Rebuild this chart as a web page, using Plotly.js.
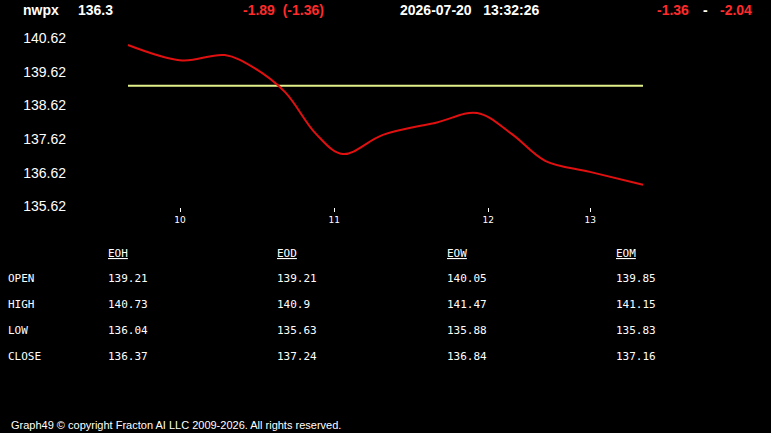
<!DOCTYPE html>
<html>
<head>
<meta charset="utf-8">
<script src="https://cdn.plot.ly/plotly-3.0.1.min.js"></script>
<style>
html,body{margin:0;padding:0;background:#000;}
#chart{width:771px;height:433px;}
</style>
</head>
<body>
<div id="chart"></div>
<script>
// ---- data ----
const symbol = "nwpx";
const lastPrice = "136.3";
const change = "-1.89";
const changePct = "(-1.36)";
const dateStr = "2026-07-20";
const timeStr = "13:32:26";
const rangeLo = "-1.36";
const rangeHi = "-2.04";

// sample index along the session and price
const tIdx = [0, 10.5, 18.8, 24.5, 30.5, 36.5, 41.7, 49.5, 60, 67.8, 74.5, 81, 89.7, 100];
const price = [140.42, 139.96, 140.12, 139.74, 139.02, 137.78, 137.18, 137.75, 138.12, 138.40, 137.78, 136.98, 136.65, 136.27];

const openLevel = 139.21;
const hourTickPos = [10.1, 40.06, 69.96, 89.77];
const hourTickText = ["10", "11", "12", "13"];

const tableCols = ["EOH", "EOD", "EOW", "EOM"];
const tableRows = ["OPEN", "HIGH", "LOW", "CLOSE"];
const colEOH = ["139.21", "140.73", "136.04", "136.37"];
const colEOD = ["139.21", "140.9", "135.63", "137.24"];
const colEOW = ["140.05", "141.47", "135.88", "136.84"];
const colEOM = ["139.85", "141.15", "135.83", "137.16"];
const tableVals = [colEOH, colEOD, colEOW, colEOM];

const footer = "Graph49 © copyright Fracton AI LLC 2009-2026. All rights reserved.";

// ---- layout geometry (pixels) ----
const W = 771, H = 433;
const L = 70, R = 700, T = 30, B = 207.5;
const px2x = px => (px - L) / (R - L);
const py2y = py => (B - py) / (B - T);

const traces = [
  {
    x: [tIdx[0], tIdx[tIdx.length - 1]],
    y: [openLevel, openLevel],
    mode: "lines",
    line: {color: "#e2f08c", width: 2},
    hoverinfo: "skip"
  },
  {
    x: tIdx,
    y: price,
    mode: "lines",
    line: {color: "#e01010", width: 2, shape: "spline", smoothing: 1},
    hoverinfo: "skip"
  }
];

const annotations = [];
function addText(text, px, py, opts) {
  annotations.push(Object.assign({
    text: text, x: px2x(px), y: py2y(py), xref: "paper", yref: "paper",
    showarrow: false, xanchor: "left", yanchor: "middle",
    font: {family: "Arial, Liberation Sans, sans-serif", size: 14, color: "#ffffff"}
  }, opts || {}));
}
const hdrFont = c => ({family: "Arial, Liberation Sans, sans-serif", size: 14, color: c});
addText("<b>" + symbol + "</b>", 21, 10, {font: hdrFont("#ffffff")});
addText("<b>" + lastPrice + "</b>", 76, 10, {font: hdrFont("#ffffff")});
addText("<b>" + change + "  " + changePct + "</b>", 241, 10, {font: hdrFont("#ff2a2a")});
addText("<b>" + dateStr + "   " + timeStr + "</b>", 398, 10, {font: hdrFont("#ffffff")});
addText("<b>" + rangeLo + "</b>", 655, 10, {font: hdrFont("#ff2a2a")});
addText("<b>-</b>", 701, 10, {font: hdrFont("#ffffff")});
addText("<b>" + rangeHi + "</b>", 718, 10, {font: hdrFont("#ff2a2a")});

const monoFont = {family: "DejaVu Sans Mono, Liberation Mono, monospace", size: 11, color: "#ffffff"};
const colX = [106, 275, 445, 614];
const rowY = [279.5, 305.5, 331.5, 357.5];
tableCols.forEach((c, i) => addText("<u>" + c + "</u>", colX[i], 254, {font: monoFont}));
tableRows.forEach((r, j) => addText(r, 6, rowY[j], {font: monoFont}));
tableVals.forEach((col, i) => col.forEach((v, j) => addText(v, colX[i], rowY[j], {font: monoFont})));

addText(footer, 9, 426, {font: {family: "Arial, Liberation Sans, sans-serif", size: 11, color: "#ffffff"}});

const pxPerUnitX = 515 / 100;
const layout = {
  width: W, height: H,
  paper_bgcolor: "#000000", plot_bgcolor: "#000000",
  margin: {l: L, r: W - R, t: T, b: H - B, pad: 0},
  showlegend: false,
  xaxis: {
    range: [-(128 - L) / pxPerUnitX, 100 + (R - 643) / pxPerUnitX],
    showgrid: false, zeroline: false, showline: false,
    tickmode: "array", tickvals: hourTickPos, ticktext: hourTickText,
    ticks: "outside", ticklen: 4, tickwidth: 1, tickcolor: "#ffffff",
    tickfont: {family: "Tahoma, DejaVu Sans, sans-serif", size: 9, color: "#ffffff"},
    fixedrange: true
  },
  yaxis: {
    range: [135.607, 140.866],
    showgrid: false, zeroline: false, showline: false,
    tickmode: "linear", tick0: 135.62, dtick: 1, tickformat: ".2f",
    ticks: "", ticklabelstandoff: 3,
    tickfont: {family: "Arial, Liberation Sans, sans-serif", size: 14, color: "#ffffff"},
    fixedrange: true
  },
  annotations: annotations
};

Plotly.newPlot("chart", traces, layout, {staticPlot: true, displayModeBar: false});
</script>
</body>
</html>
